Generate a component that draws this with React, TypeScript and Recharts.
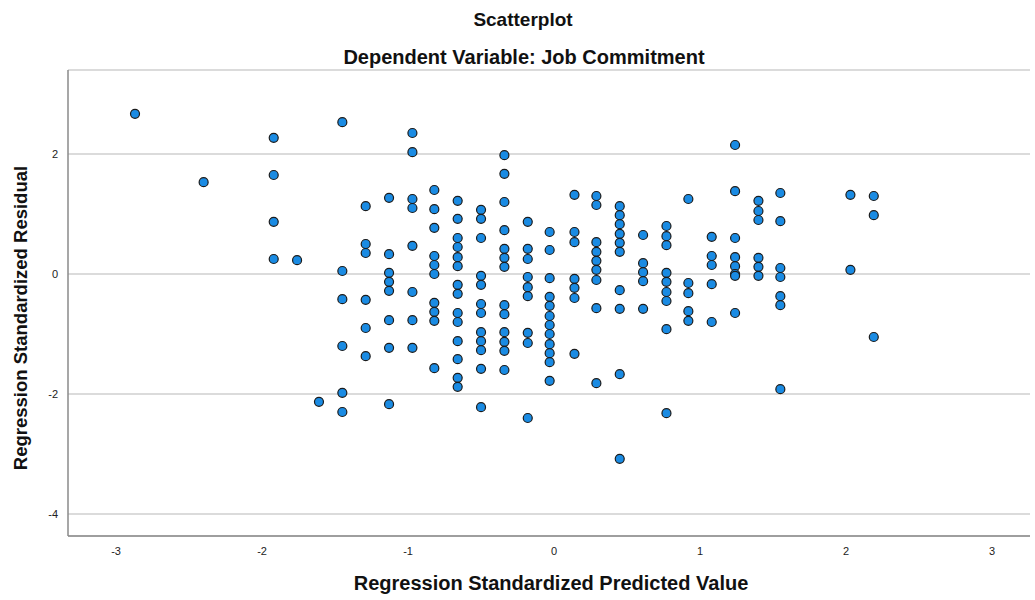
import React from 'react';
import { ScatterChart, Scatter, XAxis, YAxis, CartesianGrid } from 'recharts';

// predicted value columns (standardized) and the residuals stacked in each
const predicted = [
  -2.87, -2.4, -1.92, -1.76, -1.61, -1.45, -1.29, -1.13, -0.97, -0.82, -0.66, -0.5, -0.34, -0.18,
  -0.03, 0.14, 0.29, 0.45, 0.61, 0.77, 0.92, 1.08, 1.24, 1.4, 1.55, 2.03, 2.19,
];

const residuals: number[][] = [
  [2.67],
  [1.53],
  [2.27, 1.65, 0.87, 0.25],
  [0.23],
  [-2.13],
  [2.53, 0.05, -0.42, -1.2, -1.98, -2.3],
  [1.13, 0.5, 0.35, -0.43, -0.9, -1.37],
  [1.27, 0.33, 0.02, -0.13, -0.28, -0.77, -1.23, -2.17],
  [2.35, 2.03, 1.25, 1.1, 0.47, -0.3, -0.77, -1.23],
  [1.4, 1.08, 0.77, 0.3, 0.15, 0, -0.48, -0.63, -0.78, -1.57],
  [1.22, 0.92, 0.6, 0.45, 0.28, 0.13, -0.18, -0.33, -0.65, -0.8, -1.12, -1.42, -1.73, -1.88],
  [1.07, 0.92, 0.6, -0.03, -0.18, -0.5, -0.65, -0.97, -1.12, -1.27, -1.58, -2.22],
  [1.98, 1.67, 1.2, 0.73, 0.42, 0.27, 0.12, -0.52, -0.67, -0.97, -1.13, -1.28, -1.6],
  [0.87, 0.42, 0.25, -0.05, -0.22, -0.37, -0.98, -1.15, -2.4],
  [0.7, 0.4, -0.07, -0.38, -0.53, -0.7, -0.85, -1.0, -1.17, -1.32, -1.47, -1.78],
  [1.32, 0.7, 0.53, -0.08, -0.23, -0.4, -1.33],
  [1.3, 1.15, 0.53, 0.37, 0.22, 0.07, -0.1, -0.57, -1.82],
  [1.13, 0.98, 0.83, 0.67, 0.52, 0.37, -0.27, -0.58, -1.67, -3.08],
  [0.65, 0.18, 0.03, -0.12, -0.58],
  [0.8, 0.63, 0.48, 0.02, -0.13, -0.3, -0.45, -0.92, -2.32],
  [1.25, -0.15, -0.32, -0.62, -0.78],
  [0.62, 0.3, 0.15, -0.17, -0.8],
  [2.15, 1.38, 0.6, 0.28, 0.13, 0.0, -0.03, -0.65],
  [1.22, 1.05, 0.9, 0.27, 0.12, -0.03],
  [1.35, 0.88, 0.1, -0.05, -0.37, -0.52, -1.92],
  [1.32, 0.07],
  [1.3, 0.98, -1.05],
];

const xTicks = [-3, -2, -1, 0, 1, 2, 3];
const yTicks = [-4, -2, 0, 2];

const points = predicted.flatMap((x, i) => residuals[i].map((y) => ({ x, y })));

const FONT = '"Liberation Sans", Arial, sans-serif';

const Dot = (props: any) => (
  <circle cx={props.cx} cy={props.cy} r={4.5} fill="#1a8be3" stroke="#1b1b1b" strokeWidth={1.2} />
);

export default function App() {
  return (
    <div style={{ position: 'absolute', left: 0, top: 0, width: 1035, height: 600, background: '#fff', fontFamily: FONT }}>
      <ScatterChart width={1035} height={600} margin={{ top: 70, right: 5, bottom: 34, left: 0 }}>
        <CartesianGrid vertical={false} stroke="#cfcfcf" strokeWidth={1.5} />
        <XAxis
          type="number"
          dataKey="x"
          domain={[-3.329, 3.26]}
          ticks={xTicks}
          allowDataOverflow
          height={30}
          tickLine={false}
          tickSize={6}
          tickMargin={5}
          axisLine={{ stroke: '#8a8a8a', strokeWidth: 1.5 }}
          tick={{ fontSize: 11, fill: '#222', fontFamily: FONT }}
        />
        <YAxis
          type="number"
          dataKey="y"
          domain={[-4.367, 3.4]}
          ticks={yTicks}
          allowDataOverflow
          width={68}
          tickLine={false}
          tickSize={6}
          tickMargin={4}
          axisLine={{ stroke: '#8a8a8a', strokeWidth: 1.5 }}
          tick={{ fontSize: 11, fill: '#222', fontFamily: FONT }}
        />
        <Scatter data={points} shape={<Dot />} isAnimationActive={false} />
      </ScatterChart>
      <svg width={1035} height={600} style={{ position: 'absolute', left: 0, top: 0, pointerEvents: 'none' }}>
        <g fontFamily={FONT} fontWeight="bold" fill="#111" textAnchor="middle">
          <text x={523} y={26} fontSize={19}>Scatterplot</text>
          <text x={524} y={64} fontSize={20}>Dependent Variable: Job Commitment</text>
          <text x={551} y={590} fontSize={20}>Regression Standardized Predicted Value</text>
          <text x={0} y={0} fontSize={18.5} transform="translate(27,318) rotate(-90)">Regression Standardized Residual</text>
        </g>
      </svg>
    </div>
  );
}
